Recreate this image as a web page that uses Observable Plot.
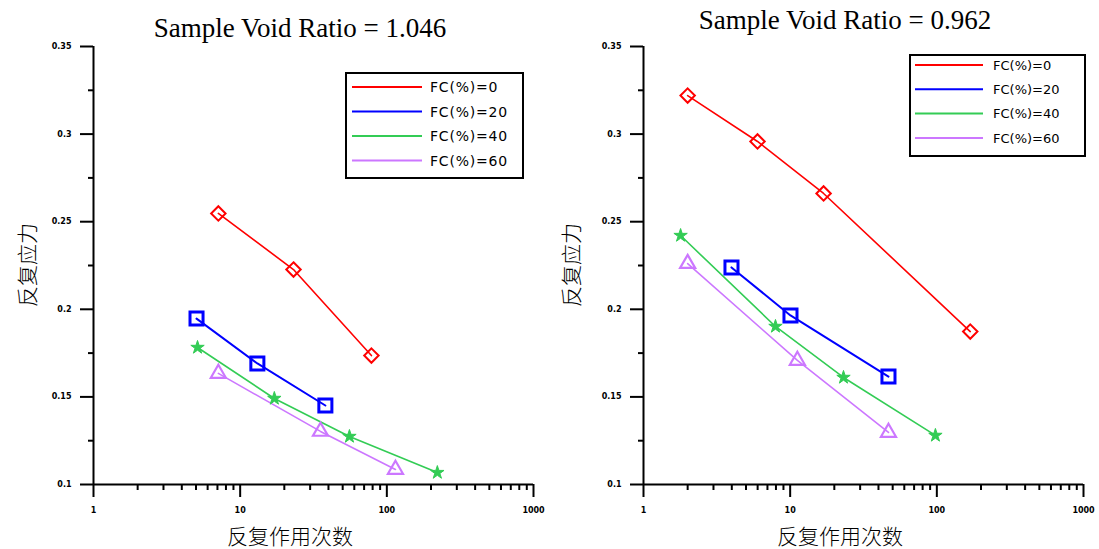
<!DOCTYPE html>
<html><head><meta charset="utf-8">
<script src="https://cdn.jsdelivr.net/npm/d3@7"></script>
<script src="https://cdn.jsdelivr.net/npm/@observablehq/plot@0.6"></script>
<style>
body{margin:0;background:#fff;}
#wrap{position:relative;width:1099px;height:549px;overflow:hidden;background:#fff;}
.panel{position:absolute;top:0;}
.title{position:absolute;font-family:"Liberation Serif","Times New Roman",serif;font-size:27px;white-space:nowrap;transform:translate(-50%,-50%);color:#000;line-height:1;}
.xlab{position:absolute;font-family:"Noto Sans CJK SC",sans-serif;font-weight:300;font-size:21px;white-space:nowrap;transform:translate(-50%,-50%);color:#000;line-height:1;}
.ylab{position:absolute;font-family:"Noto Sans CJK SC",sans-serif;font-weight:300;font-size:21px;white-space:nowrap;transform:translate(-50%,-50%) rotate(-90deg);color:#000;line-height:1;}
</style>
</head><body>
<div id="wrap"></div>
<script>
// ---- data ----
const seriesNames = ["FC(%)=0", "FC(%)=20", "FC(%)=40", "FC(%)=60"];
const seriesColors = ["#ff0000", "#0000ff", "#33cc55", "#cc77ff"];
const panelTitles = ["Sample Void Ratio = 1.046", "Sample Void Ratio = 0.962"];
const xAxisLabel = "反复作用次数";
const yAxisLabel = "反复应力";
const xTickValues = [1, 10, 100, 1000];
const xTickLabels = ["1", "10", "100", "1000"];
const xMinorTicks = [2,3,4,5,6,7,8,9,20,30,40,50,60,70,80,90,200,300,400,500,600,700,800,900];
const yTickValues = [0.1, 0.15, 0.2, 0.25, 0.3, 0.35];
const yTickLabels = ["0.1", "0.15", "0.2", "0.25", "0.3", "0.35"];
const yMinorTicks = [0.125, 0.175, 0.225, 0.275, 0.325];

// left panel (void ratio 1.046)
const leftN0  = [7.1, 23.1, 78.5];
const leftS0  = [0.2547, 0.2227, 0.1736];
const leftN20 = [5.04, 13.1, 38.1];
const leftS20 = [0.1947, 0.1691, 0.1451];
const leftN40 = [5.12, 17.1, 55.6, 221];
const leftS40 = [0.1782, 0.1491, 0.1274, 0.1068];
const leftN60 = [7.1, 35.3, 114.5];
const leftS60 = [0.1634, 0.1303, 0.1086];

// right panel (void ratio 0.962)
const rightN0  = [2.0, 5.99, 16.9, 169];
const rightS0  = [0.322, 0.2958, 0.2661, 0.1873];
const rightN20 = [3.98, 10.05, 46.8];
const rightS20 = [0.2239, 0.1965, 0.1616];
const rightN40 = [1.79, 7.94, 23.1, 97.8];
const rightS40 = [0.2421, 0.1902, 0.1611, 0.128];
const rightN60 = [2.0, 11.2, 46.8];
const rightS60 = [0.2261, 0.1708, 0.1297];

function table(ns, ss) {
  const rows = [];
  ns.forEach((xs, i) => xs.forEach((x, j) => rows.push({series: seriesNames[i], n: x, s: ss[i][j]})));
  return rows;
}
const leftData = table([leftN0, leftN20, leftN40, leftN60], [leftS0, leftS20, leftS40, leftS60]);
const rightData = table([rightN0, rightN20, rightN40, rightN60], [rightS0, rightS20, rightS40, rightS60]);

// ---- styles ----
const symbolStyles = [
  {symbol: "diamond2", r: 6.5, fill: "none", strokeWidth: 2},
  {symbol: "square2", r: 8.3, fill: "none", strokeWidth: 3},
  {symbol: "star", r: 4.2, fill: seriesColors[2], strokeWidth: 1},
  {symbol: "triangle2", r: 7.2, fill: "none", strokeWidth: 2.2}
];
const lineWidths = [1.6, 2, 1.6, 1.6];

const wrap = document.getElementById("wrap");

function makePanel(data, opts) {
  const marks = [];
  seriesNames.forEach((name, i) => {
    const d = data.filter(r => r.series === name);
    marks.push(Plot.line(d, {x: "n", y: "s", stroke: seriesColors[i], strokeWidth: lineWidths[i]}));
  });
  seriesNames.forEach((name, i) => {
    const d = data.filter(r => r.series === name);
    const st = symbolStyles[i];
    marks.push(Plot.dot(d, {x: "n", y: "s", symbol: st.symbol, r: st.r, fill: st.fill, stroke: seriesColors[i], strokeWidth: st.strokeWidth}));
  });
  const svg = Plot.plot({
    width: opts.width, height: 549,
    marginLeft: 93, marginRight: opts.marginRight, marginTop: 46, marginBottom: 65,
    style: {fontFamily: "DejaVu Sans, sans-serif", background: "transparent", color: "#000"},
    x: {type: "log", domain: [1, 1000], axis: null, label: null},
    y: {domain: [0.1, 0.35], axis: null, label: null},
    marks: [
      Plot.axisY(yMinorTicks, {label: null, tickSize: 5, tickFormat: () => "", strokeWidth: 2}),
      Plot.axisY(yTickValues, {label: null, tickSize: 13, tickPadding: 9, strokeWidth: 2, fontSize: 8, fontWeight: "bold",
        tickFormat: v => yTickLabels[yTickValues.indexOf(v)]}),
      Plot.axisX(xMinorTicks, {label: null, tickSize: 6, tickFormat: () => "", strokeWidth: 2}),
      Plot.axisX(xTickValues, {label: null, tickSize: 13, tickPadding: 10, strokeWidth: 2, fontSize: 8, fontWeight: "bold",
        tickFormat: v => xTickLabels[xTickValues.indexOf(v)]}),
      Plot.ruleX([1], {strokeWidth: 2}),
      Plot.ruleY([0.1], {strokeWidth: 2}),
      ...marks
    ]
  });
  const div = document.createElement("div");
  div.className = "panel";
  div.style.left = opts.left + "px";
  div.appendChild(svg);
  wrap.appendChild(div);
}

function addText(cls, text, x, y) {
  const d = document.createElement("div");
  d.className = cls;
  d.textContent = text;
  d.style.left = x + "px";
  d.style.top = y + "px";
  wrap.appendChild(d);
}

function addLegend(o) {
  const svg = d3.create("svg").attr("width", o.w).attr("height", o.h)
    .style("position", "absolute").style("left", o.left + "px").style("top", o.top + "px");
  svg.append("rect").attr("x", 1).attr("y", 1).attr("width", o.w - 2).attr("height", o.h - 2)
    .attr("fill", "#fff").attr("stroke", "#000").attr("stroke-width", 2);
  seriesNames.forEach((name, i) => {
    const y = o.row0 + i * o.gap;
    svg.append("line").attr("x1", o.lx0).attr("x2", o.lx1).attr("y1", y).attr("y2", y)
      .attr("stroke", seriesColors[i]).attr("stroke-width", 2);
    svg.append("text").attr("x", o.tx).attr("y", y).attr("dy", "0.36em")
      .attr("font-family", "DejaVu Sans, sans-serif").attr("font-size", o.fs)
      .attr("letter-spacing", o.ls).attr("fill", "#000").text(name);
  });
  wrap.appendChild(svg.node());
}

makePanel(leftData, {left: 0, width: 550, marginRight: 17});
makePanel(rightData, {left: 550, width: 549, marginRight: 16});

addText("title", panelTitles[0], 300, 28);
addText("title", panelTitles[1], 845, 20);
addText("xlab", xAxisLabel, 290, 535);
addText("xlab", xAxisLabel, 840, 535);
addText("ylab", yAxisLabel, 26, 265);
addText("ylab", yAxisLabel, 570, 265);

addLegend({left: 345, top: 72, w: 179, h: 107, lx0: 7, lx1: 77, tx: 85, row0: 15, gap: 24.5, fs: 14, ls: 0.8});
addLegend({left: 909, top: 54, w: 177, h: 103, lx0: 6, lx1: 74, tx: 84, row0: 11, gap: 24.3, fs: 13, ls: 0});
</script>
</body></html>
